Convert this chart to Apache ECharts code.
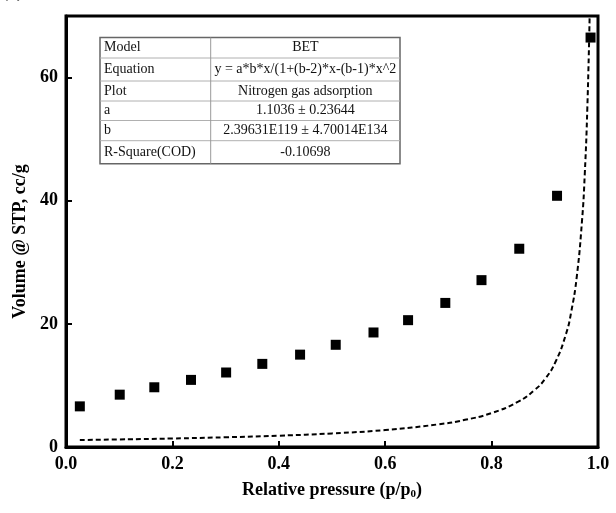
<!DOCTYPE html>
<html>
<head>
<meta charset="utf-8">
<script src="https://cdn.jsdelivr.net/npm/echarts@6/dist/echarts.min.js"></script>
<style>
html,body{margin:0;padding:0;background:#fff;}
#c{width:616px;height:513px;}
</style>
</head>
<body>
<div id="c"></div>
<script>
// Measured isotherm points (relative pressure, volume)
const pressure = [0.026, 0.101, 0.166, 0.235, 0.301, 0.369, 0.440, 0.507, 0.578, 0.643, 0.713, 0.781, 0.852, 0.923, 0.986];
const volume   = [6.6, 8.5, 9.7, 10.9, 12.1, 13.5, 15.0, 16.6, 18.6, 20.6, 23.4, 27.1, 32.2, 40.8, 66.5];
// BET fit curve (dashed)
const fitX = [0.026, 0.1, 0.2, 0.3, 0.4, 0.5, 0.6, 0.7, 0.75, 0.8, 0.85, 0.88, 0.9, 0.92, 0.94, 0.95, 0.96, 0.97, 0.975, 0.98, 0.9843];
const fitY = [1.13, 1.23, 1.38, 1.58, 1.84, 2.21, 2.76, 3.68, 4.41, 5.52, 7.36, 9.2, 11.0, 13.8, 18.4, 22.1, 27.6, 36.8, 44.1, 55.2, 70];
// Axis ticks
const xTicks = ['0.0', '0.2', '0.4', '0.6', '0.8', '1.0'];
const yTicks = ['0', '20', '40', '60'];
// Table text
const tableLabels = ['Model', 'Equation', 'Plot', 'a', 'b', 'R-Square(COD)'];
const tableValues = ['BET', 'y = a*b*x/(1+(b-2)*x-(b-1)*x^2', 'Nitrogen gas adsorption', '1.1036 \u00b1 0.23644', '2.39631E119 \u00b1 4.70014E134', '-0.10698'];

const font = "'Liberation Serif','Times New Roman',serif";
const chart = echarts.init(document.getElementById('c'));

// table geometry
const tL = 100, tR = 400, tMid = 210.7;
const rowLines = [37.5, 58, 81, 101, 120.5, 140.7, 163.7];
const graphics = [];
graphics.push({type:'text', left: 2, top: -17, style:{text:'(a)', font:"bold 18px " + font, fill:'#000'}});
graphics.push({type:'rect', shape:{x:tL, y:rowLines[0], width:tR-tL, height:rowLines[6]-rowLines[0]}, style:{fill:'#fff', stroke:'#666', lineWidth:1.5}, z:100});
for (let i = 1; i < 6; i++) {
  graphics.push({type:'line', shape:{x1:tL, y1:rowLines[i], x2:tR, y2:rowLines[i]}, style:{stroke:'#b0b0b0', lineWidth:1}, z:101});
}
graphics.push({type:'line', shape:{x1:tMid, y1:rowLines[0], x2:tMid, y2:rowLines[6]}, style:{stroke:'#999', lineWidth:1}, z:101});
for (let i = 0; i < 6; i++) {
  const cy = (rowLines[i] + rowLines[i+1]) / 2;
  graphics.push({type:'text', x: tL + 4, y: cy, style:{text: tableLabels[i], font: "14px " + font, fill:'#111', textVerticalAlign:'middle', textAlign:'left'}, z:102});
  graphics.push({type:'text', x: (tMid + tR) / 2, y: cy, style:{text: tableValues[i], font: "14px " + font, fill:'#111', textVerticalAlign:'middle', textAlign:'center'}, z:102});
}

chart.setOption({
  animation: false,
  backgroundColor: '#fff',
  grid: {left: 66, right: 18, top: 16, bottom: 66, show: true, borderColor: '#000', borderWidth: 3, containLabel: false},
  xAxis: {
    type: 'value', min: 0, max: 1, interval: 0.2,
    name: 'Relative pressure (p/p{sub|0})', nameLocation: 'middle', nameGap: 34,
    nameTextStyle: {fontFamily: font, fontWeight: 'bold', fontSize: 18, color: '#000',
      rich: {sub: {fontFamily: font, fontWeight: 'bold', fontSize: 11, color: '#000', verticalAlign: 'bottom', padding: [8, 0, 0, 0]}}},
    axisLine: {show: true, lineStyle: {color: '#000', width: 3}},
    axisTick: {show: true, inside: true, length: 6, lineStyle: {color: '#000', width: 2}},
    axisLabel: {fontFamily: font, fontWeight: 'bold', fontSize: 18, color: '#000', margin: 8,
      formatter: v => xTicks[Math.round(v / 0.2)]},
    splitLine: {show: false}
  },
  yAxis: {
    type: 'value', min: 0, max: 70, interval: 20,
    name: 'Volume @ STP, cc/g', nameLocation: 'middle', nameGap: 23,
    nameTextStyle: {fontFamily: font, fontWeight: 'bold', fontSize: 18, color: '#000', padding: [0, 20, 0, 0]},
    axisLine: {show: true, lineStyle: {color: '#000', width: 3}},
    axisTick: {show: true, inside: true, length: 6, lineStyle: {color: '#000', width: 2}},
    axisLabel: {fontFamily: font, fontWeight: 'bold', fontSize: 18, color: '#000', margin: 8, showMaxLabel: false,
      formatter: v => { const i = yTicks.indexOf(String(v)); return i >= 0 ? yTicks[i] : ''; }},
    splitLine: {show: false}
  },
  series: [
    {type: 'line', data: fitX.map((x, i) => [x, fitY[i]]), smooth: true, showSymbol: false, symbol: 'none',
      lineStyle: {color: '#000', width: 2, type: [5, 3]}, z: 2},
    {type: 'scatter', data: pressure.map((x, i) => [x, volume[i]]), symbol: 'rect', symbolSize: 10,
      itemStyle: {color: '#000', opacity: 1}, z: 3}
  ],
  graphic: graphics
});
</script>
</body>
</html>
